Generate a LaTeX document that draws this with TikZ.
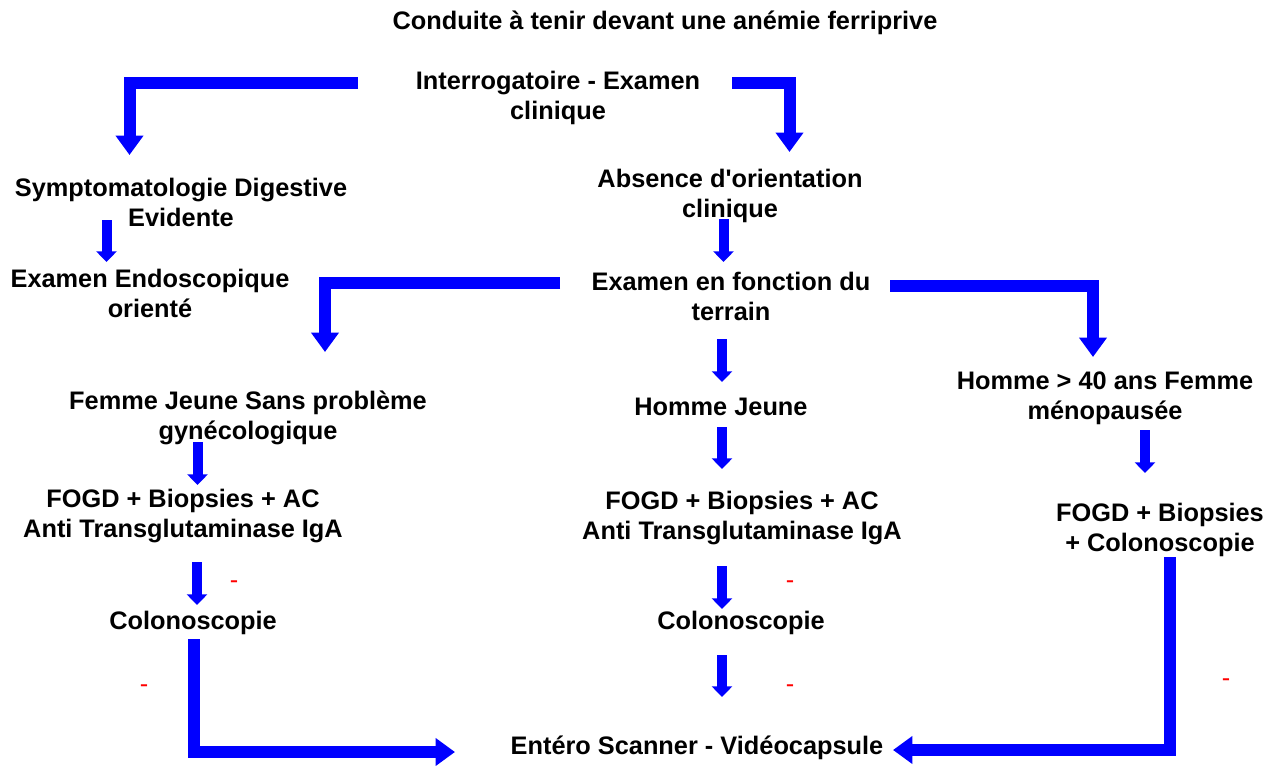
\documentclass[tikz,border=0pt]{standalone}
\usepackage{fontspec}
\setmainfont{Liberation Sans}[Ligatures=TeXOff]
\usetikzlibrary{arrows.meta}
\definecolor{arrowblue}{RGB}{0,0,255}
\definecolor{minusred}{RGB}{255,0,0}
\tikzset{
  txt/.style={font=\fontsize{19}{22.5}\selectfont\bfseries, align=center, inner sep=0pt, text=black},
  minus/.style={font=\fontsize{19}{22.5}\selectfont, inner sep=0pt, text=minusred},
  bigarrow/.style={draw=arrowblue, line width=9pt, line join=miter, line cap=butt,
    -{Triangle[width=20pt,length=14.5pt]}},
  smallarrow/.style={draw=arrowblue, line width=7.5pt, line cap=butt,
    -{Triangle[width=15pt,length=8pt]}}
}
\begin{document}
\begin{tikzpicture}[x=0.75pt,y=-0.75pt]
\useasboundingbox (0,0) rectangle (1279,765);
% texts
\node[txt] (title) at (665,23) {Conduite à tenir devant une anémie ferriprive};
\node[txt] (int) at (558,98) {Interrogatoire - Examen\\clinique};
\node[txt] (sym) at (181,202) {Symptomatologie Digestive\\Evidente};
\node[txt] (abs) at (730,196) {Absence d'orientation\\clinique};
\node[txt] (endo) at (150,293) {Examen Endoscopique\\orienté};
\node[txt] (ter) at (731,296) {Examen en fonction du\\terrain};
\node[txt] (fem) at (248,418) {Femme Jeune Sans problème\\gynécologique};
\node[txt] (hj) at (721,407) {Homme Jeune};
\node[txt] (h40) at (1105,398) {Homme > 40 ans Femme\\ménopausée};
\node[txt] (fl) at (183,516) {FOGD + Biopsies + AC\\Anti Transglutaminase IgA};
\node[txt] (fm) at (742,518) {FOGD + Biopsies + AC\\Anti Transglutaminase IgA};
\node[txt] (fr) at (1160,530) {FOGD + Biopsies\\+ Colonoscopie};
\node[txt] (cl) at (193,623) {Colonoscopie};
\node[txt] (cm) at (741,623) {Colonoscopie};
\node[txt] (ent) at (697,748) {Entéro Scanner - Vidéocapsule};
% red minus signs
\node[minus] (m1) at (234,585) {-};
\node[minus] (m2) at (790,585) {-};
\node[minus] (m3) at (144,689) {-};
\node[minus] (m4) at (790,689) {-};
\node[minus] (m5) at (1226,683) {-};
% arrow end points
\coordinate (a1s) at (358,83);   \coordinate (a1e) at (129.5,155);
\coordinate (a2s) at (732,82.5); \coordinate (a2e) at (789.5,152);
\coordinate (a3s) at (106.5,220); \coordinate (a3e) at (106.5,262);
\coordinate (a4s) at (723.5,219); \coordinate (a4e) at (723.5,262);
\coordinate (a5s) at (560,283);  \coordinate (a5e) at (325,352);
\coordinate (a6s) at (890,285.5); \coordinate (a6e) at (1093,357);
\coordinate (a7s) at (722,339);  \coordinate (a7e) at (722,382);
\coordinate (a8s) at (722,427);  \coordinate (a8e) at (722,469);
\coordinate (a9s) at (722,566);  \coordinate (a9e) at (722,609);
\coordinate (a10s) at (722,655); \coordinate (a10e) at (722,697);
\coordinate (a11s) at (197.5,442); \coordinate (a11e) at (197.5,485);
\coordinate (a12s) at (197,562); \coordinate (a12e) at (197,605);
\coordinate (a13s) at (193.5,639); \coordinate (a13e) at (455,752);
\coordinate (a14s) at (1145,430); \coordinate (a14e) at (1145,473);
\coordinate (a15s) at (1169.5,557); \coordinate (a15e) at (893,750);
% arrows
\draw[bigarrow] (a1s) -| (a1e);
\draw[bigarrow] (a2s) -| (a2e);
\draw[smallarrow] (a3s) -- (a3e);
\draw[smallarrow] (a4s) -- (a4e);
\draw[bigarrow] (a5s) -| (a5e);
\draw[bigarrow] (a6s) -| (a6e);
\draw[smallarrow] (a7s) -- (a7e);
\draw[smallarrow] (a8s) -- (a8e);
\draw[smallarrow] (a9s) -- (a9e);
\draw[smallarrow] (a10s) -- (a10e);
\draw[smallarrow] (a11s) -- (a11e);
\draw[smallarrow] (a12s) -- (a12e);
\draw[bigarrow] (a13s) |- (a13e);
\draw[smallarrow] (a14s) -- (a14e);
\draw[bigarrow] (a15s) |- (a15e);
\end{tikzpicture}
\end{document}
